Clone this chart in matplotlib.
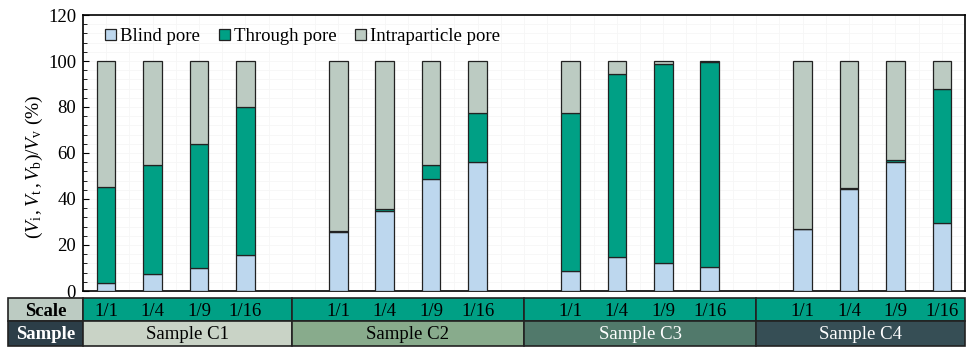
import numpy as np
import matplotlib.pyplot as plt
from matplotlib.patches import Rectangle

plt.rcParams['font.family'] = ['Liberation Serif', 'DejaVu Serif']
plt.rcParams['mathtext.fontset'] = 'custom'
plt.rcParams['mathtext.rm'] = 'Liberation Serif'
plt.rcParams['mathtext.it'] = 'Liberation Serif:italic'

samples = ['Sample C1', 'Sample C2', 'Sample C3', 'Sample C4']
scales = ['1/1', '1/4', '1/9', '1/16']
# percent of total pore volume, per sample (rows) and scale (cols)
blind = [[3.5, 7.2, 10.0, 15.8],
         [25.6, 34.6, 48.6, 56.1],
         [8.5, 14.9, 12.3, 10.3],
         [26.8, 44.3, 56.0, 29.4]]
through = [[41.8, 47.7, 53.8, 64.3],
           [0.3, 1.2, 6.3, 21.4],
           [68.7, 79.6, 86.2, 89.4],
           [0.2, 0.6, 0.8, 58.4]]

c_blind = '#bdd7ee'
c_through = '#00a085'
c_intra = '#bccbc2'
sample_colors = ['#c9d3c6', '#88ab8c', '#51796b', '#364e55']
sample_text = ['black', 'black', 'white', 'white']

fs = 13.5
fig = plt.figure(figsize=(9.67, 3.47), dpi=100)
ax = fig.add_axes([83/967, 1-291/347, 882/967, 276/347])

x = []
for g in range(len(samples)):
    for j in range(len(scales)):
        x.append(g*5 + j)
x = np.array(x)
b = np.array(blind).ravel()
t = np.array(through).ravel()
i = 100 - b - t

w = 0.4
ax.bar(x, b, w, color=c_blind, edgecolor='#222222', linewidth=0.9, label='Blind pore', zorder=3)
ax.bar(x, t, w, bottom=b, color=c_through, edgecolor='#222222', linewidth=0.9, label='Through pore', zorder=3)
ax.bar(x, i, w, bottom=b+t, color=c_intra, edgecolor='#222222', linewidth=0.9, label='Intraparticle pore', zorder=3)

ax.set_xlim(-0.5, 18.5)
ax.set_ylim(0, 120)
ax.set_yticks(range(0, 121, 20))
ax.set_yticks(range(0, 121, 4), minor=True)
ax.set_xticks([])
ax.tick_params(axis='y', which='both', direction='in', labelsize=fs, length=4, pad=5)
ax.tick_params(axis='y', which='minor', length=3)
ax.set_xticks(np.arange(-0.5, 18.6, 0.5), minor=True)
ax.tick_params(axis='x', which='minor', length=0)
ax.grid(True, which='both', color='#f6f6f6', linewidth=0.6, zorder=0)
for s in ax.spines.values():
    s.set_linewidth(1.2)
ax.set_ylabel(r'$(V_{\mathrm{i}}\,, V_{\mathrm{t}}\,, V_{\mathrm{b}})/V_{\mathrm{v}}$ (%)', fontsize=14)
ax.yaxis.set_label_coords(-0.043, 0.45)

ax.legend(loc='upper left', ncol=3, frameon=False, fontsize=fs,
          handlelength=0.6, handleheight=0.6, handletextpad=0.2,
          columnspacing=1.0, bbox_to_anchor=(0.01, 1.0), borderaxespad=0.3)

# table below the axes
tax = fig.add_axes([83/967, 1-346/347, 882/967, 48/347])
tax.set_xlim(-0.5, 18.5)
tax.set_ylim(0, 2)
tax.axis('off')
left = -0.5 - 75/46.4
edges = [-0.5, 4, 9, 14, 18.5]

tax.add_patch(Rectangle((left, 1.04), -0.5-left, 0.96, facecolor=c_intra, edgecolor='#222222', lw=1.2, clip_on=False))
tax.add_patch(Rectangle((left, 0), -0.5-left, 1.04, facecolor='#2c3e48', edgecolor='#222222', lw=1.2, clip_on=False))
tax.text((left-0.5)/2, 1.44, 'Scale', ha='center', va='center', fontsize=fs, fontweight='bold')
tax.text((left-0.5)/2, 0.46, 'Sample', ha='center', va='center', fontsize=fs, fontweight='bold', color='white')

for g in range(len(samples)):
    x0, x1 = edges[g], edges[g+1]
    tax.add_patch(Rectangle((x0, 1.04), x1-x0, 0.96, facecolor=c_through, edgecolor='#222222', lw=1.2, clip_on=False))
    tax.add_patch(Rectangle((x0, 0), x1-x0, 1.04, facecolor=sample_colors[g], edgecolor='#222222', lw=1.2, clip_on=False))
    tax.text((x0+x1)/2, 0.46, samples[g], ha='center', va='center', fontsize=fs, color=sample_text[g])
    for j in range(len(scales)):
        tax.text(g*5 + j, 1.42, scales[j], ha='center', va='center', fontsize=fs)

fig.savefig('out.png', dpi=100)
